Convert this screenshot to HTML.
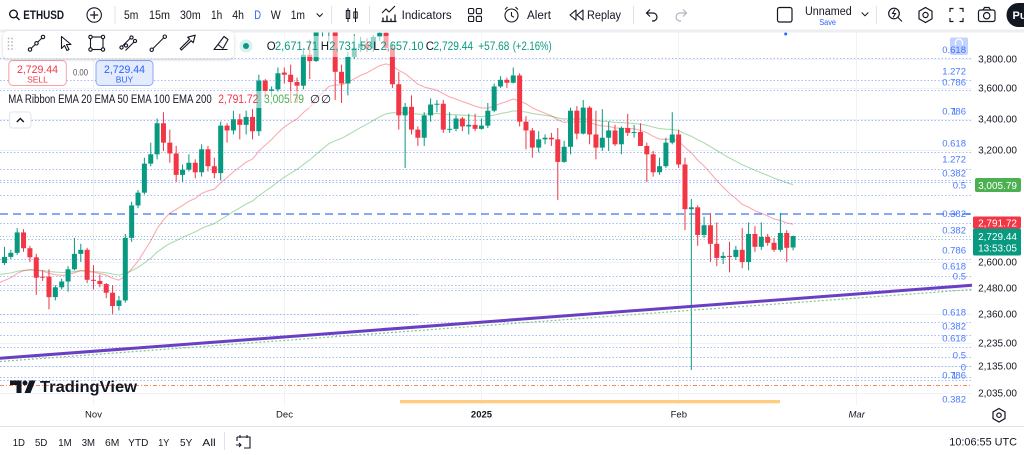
<!DOCTYPE html>
<html><head><meta charset="utf-8"><title>ETHUSD</title>
<style>
html,body{margin:0;padding:0;background:#fff}
body{width:1024px;height:455px;overflow:hidden}
svg{display:block}
text{font-family:"Liberation Sans",Arial,sans-serif}
</style></head>
<body>
<svg id="s" xmlns="http://www.w3.org/2000/svg" width="1024" height="455" viewBox="0 0 1024 455">
<defs>
<clipPath id="cp"><rect x="0" y="32" width="972" height="373"/></clipPath>
<filter id="sh" x="-10%" y="-40%" width="120%" height="200%"><feDropShadow dx="0" dy="1" stdDeviation="1.5" flood-color="#000" flood-opacity="0.18"/></filter>
</defs>
<rect width="1024" height="455" fill="#fff"/>

<!-- grid -->
<g stroke="#f0f2f6" stroke-width="1">
<line x1="93.5" y1="32" x2="93.5" y2="405"/><line x1="284.5" y1="32" x2="284.5" y2="405"/><line x1="481.5" y1="32" x2="481.5" y2="405"/><line x1="678.5" y1="32" x2="678.5" y2="405"/><line x1="856.5" y1="32" x2="856.5" y2="405"/>
<line x1="0" y1="59.5" x2="972" y2="59.5"/><line x1="0" y1="88.5" x2="972" y2="88.5"/><line x1="0" y1="119.5" x2="972" y2="119.5"/><line x1="0" y1="150.5" x2="972" y2="150.5"/><line x1="0" y1="262.5" x2="972" y2="262.5"/><line x1="0" y1="288.5" x2="972" y2="288.5"/><line x1="0" y1="314.5" x2="972" y2="314.5"/><line x1="0" y1="343.5" x2="972" y2="343.5"/><line x1="0" y1="366.5" x2="972" y2="366.5"/><line x1="0" y1="393.5" x2="972" y2="393.5"/>
</g>

<!-- fib dotted lines -->
<g stroke="#2962ff" stroke-opacity="0.42" stroke-width="1" stroke-dasharray="1.5 2">
<line x1="0" y1="58.5" x2="972" y2="58.5"/><line x1="0" y1="80.5" x2="972" y2="80.5"/><line x1="0" y1="90.5" x2="972" y2="90.5"/><line x1="0" y1="120.5" x2="972" y2="120.5"/><line x1="0" y1="152.5" x2="972" y2="152.5"/><line x1="0" y1="169.5" x2="972" y2="169.5"/><line x1="0" y1="180.5" x2="972" y2="180.5"/><line x1="0" y1="182.5" x2="972" y2="182.5"/><line x1="0" y1="195.5" x2="972" y2="195.5"/><line x1="0" y1="223.5" x2="972" y2="223.5"/><line x1="0" y1="239.5" x2="972" y2="239.5"/><line x1="0" y1="259.5" x2="972" y2="259.5"/><line x1="0" y1="276.5" x2="972" y2="276.5"/><line x1="0" y1="285.5" x2="972" y2="285.5"/><line x1="0" y1="290.5" x2="972" y2="290.5"/><line x1="0" y1="314.5" x2="420" y2="314.5"/><line x1="0" y1="322.5" x2="972" y2="322.5"/><line x1="0" y1="335.5" x2="972" y2="335.5"/><line x1="0" y1="347.5" x2="972" y2="347.5"/><line x1="0" y1="357.5" x2="972" y2="357.5"/><line x1="0" y1="366.5" x2="972" y2="366.5"/><line x1="0" y1="377.5" x2="972" y2="377.5"/><line x1="0" y1="380.5" x2="972" y2="380.5"/>
</g>
<line x1="0" y1="236.5" x2="972" y2="236.5" stroke="#4caf50" stroke-opacity="0.6" stroke-dasharray="1 2"/>
<line x1="0" y1="214" x2="972" y2="214" stroke="#2962ff" stroke-opacity="0.75" stroke-width="1.6" stroke-dasharray="8 5"/>
<line x1="0" y1="385.5" x2="972" y2="385.5" stroke="#f26b3a" stroke-opacity="0.8" stroke-width="1" stroke-dasharray="4 2 1 2"/>

<!-- series -->
<g clip-path="url(#cp)">
<polyline id="e50" fill="none" stroke="#4caf50" stroke-opacity="0.45" stroke-width="1.1" points=""/>
<polyline id="e20" fill="none" stroke="#f23645" stroke-opacity="0.42" stroke-width="1.1" points=""/>
<g id="cdl"></g>
</g>

<!-- trendline -->
<line x1="0" y1="361.5" x2="972" y2="289.5" stroke="#81c784" stroke-width="1.2" stroke-dasharray="2 2"/>
<line x1="0" y1="358.3" x2="972" y2="285.3" stroke="#6b3fc4" stroke-width="3"/>

<!-- orange bar -->
<rect x="400" y="400" width="380" height="3.3" fill="#ffcc80"/>
<circle cx="785.7" cy="34" r="1.5" fill="#2962ff"/>

<!-- TradingView logo -->
<g fill="#131722">
<path d="M10 380.5 h11.5 v12.5 h-5 v-8 h-6.5z"/>
<circle cx="25" cy="383" r="2.5"/>
<path d="M29.5 380.5 h6 l-5 12.5 h-6z"/>
<text x="40" y="392" font-size="15.5" font-weight="bold" textLength="97" lengthAdjust="spacingAndGlyphs">TradingView</text>
</g>

<!-- fib labels -->
<rect x="950" y="37.5" width="18" height="17.5" rx="2" fill="#2962ff" fill-opacity="0.28"/>
<path d="M955.5 45 v-2.5 a3.5 3.5 0 0 1 7 0 v2.5" fill="none" stroke="#fff" stroke-width="1.3"/>
<g fill="#2962ff" fill-opacity="0.85" font-size="9.5" text-anchor="end">
<text x="966" y="53">0.618</text>
<text x="966" y="74.5">1.272</text>
<text x="966" y="85.5">0.786</text>
<text x="966" y="114.5">0.786</text><text x="957" y="114.5">1</text>
<text x="966" y="146.5">0.618</text>
<text x="966" y="162.5">1.272</text>
<text x="966" y="176.5">0.382</text>
<text x="966" y="188.5">0.5</text>
<text x="966" y="217">0.382</text>
<text x="966" y="233.5">0.382</text>
<text x="966" y="253.5">0.786</text>
<text x="966" y="269.5">0.618</text>
<text x="966" y="279.5">0.5</text>
<text x="966" y="315.5">0.618</text>
<text x="966" y="329.5">0.382</text>
<text x="966" y="341.5">0.618</text>
<text x="966" y="358.5">0.5</text>
<text x="966" y="370.5">0</text>
<text x="966" y="378.5">0.786</text><text x="957" y="378.5">1</text>
<text x="966" y="402.5">0.382</text>
</g>
<line x1="966" y1="214" x2="971" y2="214" stroke="#2962ff" stroke-opacity="0.8" stroke-width="1.3"/>

<!-- price axis -->
<rect x="972" y="32" width="52" height="373" fill="#fff"/>
<g fill="#131722" font-size="10" text-anchor="end">
<text x="1017" y="62.5">3,800.00</text>
<text x="1017" y="91.5">3,600.00</text>
<text x="1017" y="122.5">3,400.00</text>
<text x="1017" y="153.5">3,200.00</text>
<text x="1017" y="265.5">2,600.00</text>
<text x="1017" y="291.5">2,480.00</text>
<text x="1017" y="317.5">2,360.00</text>
<text x="1017" y="346.5">2,235.00</text>
<text x="1017" y="369.5">2,135.00</text>
<text x="1017" y="396.5">2,035.00</text>
</g>
<rect x="975" y="178" width="46" height="14" rx="2" fill="#4caf50"/>
<rect x="973" y="216.5" width="48" height="12" rx="1.5" fill="#f23645"/>
<rect x="973" y="228.5" width="48" height="27" rx="1.5" fill="#089981"/>
<g fill="#fff" font-size="10" text-anchor="end">
<text x="1017" y="188.8">3,005.79</text>
<text x="1017" y="226.3">2,791.72</text>
<text x="1017" y="239.8">2,729.44</text>
<text x="1017" y="251.5">13:53:05</text>
</g>

<!-- time axis -->
<g fill="#131722" font-size="9.5" text-anchor="middle">
<text x="93.5" y="417.5">Nov</text>
<text x="284.5" y="417.5">Dec</text>
<text x="481.5" y="417.5" font-weight="bold">2025</text>
<text x="678.8" y="417.5">Feb</text>
<text x="856.7" y="417.5" font-style="italic">Mar</text>
</g>
<polygon points="999,408.5 1005,412 1005,418.5 999,422 993,418.5 993,412" fill="none" stroke="#131722" stroke-width="1.2"/>
<circle cx="999" cy="415.2" r="2.2" fill="none" stroke="#131722" stroke-width="1.2"/>

<!-- bottom bar -->
<line x1="0" y1="426.5" x2="1024" y2="426.5" stroke="#e0e3eb"/>
<g fill="#131722" font-size="10.5">
<text x="12.7" y="446" textLength="12.3" lengthAdjust="spacingAndGlyphs">1D</text>
<text x="35" y="446" textLength="12.3" lengthAdjust="spacingAndGlyphs">5D</text>
<text x="58.3" y="446" textLength="13.4" lengthAdjust="spacingAndGlyphs">1M</text>
<text x="81.7" y="446" textLength="13.3" lengthAdjust="spacingAndGlyphs">3M</text>
<text x="105" y="446" textLength="14.3" lengthAdjust="spacingAndGlyphs">6M</text>
<text x="128.3" y="446" textLength="20" lengthAdjust="spacingAndGlyphs">YTD</text>
<text x="158.3" y="446" textLength="11" lengthAdjust="spacingAndGlyphs">1Y</text>
<text x="180" y="446" textLength="12.3" lengthAdjust="spacingAndGlyphs">5Y</text>
<text x="202.3" y="446" textLength="13.4" lengthAdjust="spacingAndGlyphs">All</text>
<text x="1017" y="445.5" font-size="11" text-anchor="end" textLength="67.7" lengthAdjust="spacingAndGlyphs">10:06:55 UTC</text>
</g>
<line x1="224.5" y1="432" x2="224.5" y2="450" stroke="#e0e3eb"/>
<g fill="none" stroke="#131722" stroke-width="1.1">
<path d="M237 437 h13 v11 h-6 M237 437 v4 M240 435 v3 M247 435 v3 M236 445 h5 M239 443 l2 2 l-2 2"/>
</g>

<!-- legend overlays -->
<rect x="238" y="36" width="318" height="21" fill="#fff" fill-opacity="0.55"/>
<circle cx="246" cy="46" r="6.5" fill="#089981" fill-opacity="0.15"/>
<circle cx="246" cy="46" r="3" fill="#089981"/>
<g font-size="11.5">
<text x="266.7" y="50" fill="#131722">O</text>
<text x="275" y="50" fill="#089981" textLength="43" lengthAdjust="spacingAndGlyphs">2,671.71</text>
<text x="320.7" y="50" fill="#131722">H</text>
<text x="329.3" y="50" fill="#089981" textLength="43" lengthAdjust="spacingAndGlyphs">2,731.53</text>
<text x="373.3" y="50" fill="#131722">L</text>
<text x="380.5" y="50" fill="#089981" textLength="43" lengthAdjust="spacingAndGlyphs">2,657.10</text>
<text x="425.7" y="50" fill="#131722">C</text>
<text x="433.5" y="50" fill="#089981" textLength="39.5" lengthAdjust="spacingAndGlyphs">2,729.44</text>
<text x="478.3" y="50" fill="#089981" textLength="31" lengthAdjust="spacingAndGlyphs">+57.68</text>
<text x="512.7" y="50" fill="#089981" textLength="39" lengthAdjust="spacingAndGlyphs">(+2.16%)</text>
</g>

<!-- sell / buy -->
<rect x="8.8" y="60.5" width="57.5" height="25" rx="4" fill="#fff" stroke="#f7a1a8"/>
<text x="37.5" y="73" fill="#f23645" font-size="11" text-anchor="middle" textLength="41" lengthAdjust="spacingAndGlyphs">2,729.44</text>
<text x="37.5" y="82.5" fill="#f23645" font-size="8.5" text-anchor="middle">SELL</text>
<text x="73" y="75.5" fill="#50535e" font-size="9.5" textLength="15" lengthAdjust="spacingAndGlyphs">0.00</text>
<rect x="96" y="60.5" width="57" height="25" rx="4" fill="#e3ebfd" stroke="#8aa9fb"/>
<text x="124.5" y="73" fill="#2962ff" font-size="11" text-anchor="middle" textLength="41" lengthAdjust="spacingAndGlyphs">2,729.44</text>
<text x="124.5" y="82.5" fill="#2962ff" font-size="8.5" text-anchor="middle">BUY</text>

<rect x="4" y="91" width="330" height="17" fill="#fff" fill-opacity="0.55"/>
<g font-size="11.5">
<text x="8.3" y="103" fill="#131722" textLength="203.4" lengthAdjust="spacingAndGlyphs">MA Ribbon EMA 20 EMA 50 EMA 100 EMA 200</text>
<text x="218.3" y="103" fill="#f23645" textLength="40" lengthAdjust="spacingAndGlyphs">2,791.72</text>
<text x="264" y="103" fill="#4caf50" textLength="40" lengthAdjust="spacingAndGlyphs">3,005.79</text>
<text x="310" y="103" fill="#131722">∅</text>
<text x="321" y="103" fill="#131722">∅</text>
</g>
<rect x="9.5" y="112" width="21.5" height="16" rx="3" fill="#fff" stroke="#e0e3eb"/>
<path d="M16.8 122 l3.5 -3.5 l3.5 3.5" fill="none" stroke="#131722" stroke-width="1.5"/>

<!-- top toolbar -->
<rect x="0" y="0" width="1024" height="29.5" fill="#fff"/>
<rect x="0" y="29.5" width="1024" height="3" fill="#eceef2"/>
<g fill="none" stroke="#131722" stroke-width="1.4">
<circle cx="13.5" cy="14" r="3.8"/><path d="M16.3 16.8 l3.2 3.2"/>
<circle cx="94.2" cy="15" r="7.2" stroke-width="1.1"/><path d="M94.2 11 v8 M90.2 15 h8" stroke-width="1.2"/>
<path d="M316.7 13.5 l3 3 l3 -3" stroke-width="1"/>
<path d="M348 8 v14 M355.5 8 v14" stroke-width="1"/>
<rect x="346.3" y="10.5" width="3.4" height="8" stroke-width="1"/><rect x="353.8" y="12" width="3.4" height="6" stroke-width="1"/>
<path d="M382 13 l4 -4 l3 3 l6 -6" stroke-width="1.1"/>
<path d="M383 21.5 v-4 M387 21.5 v-6 M391 21.5 v-3 M395 21.5 v-7 M381.5 21.5 h15" stroke-width="1.3"/>
<rect x="468.5" y="8.5" width="5.2" height="5.2" rx="1.3" stroke-width="1.1"/><rect x="476.3" y="8.5" width="5.2" height="5.2" rx="1.3" stroke-width="1.1"/><rect x="468.5" y="16.3" width="5.2" height="5.2" rx="1.3" stroke-width="1.1"/><rect x="476.3" y="16.3" width="5.2" height="5.2" rx="1.3" stroke-width="1.1"/>
<circle cx="511.5" cy="15.5" r="6.5" stroke-width="1.1"/><path d="M511.5 12 v3.8 l2.5 1.5 M505 9.5 l2.5 -2.5 M518 9.5 l-2.5 -2.5" stroke-width="1.1"/>
<path d="M576 10 l-6 5 l6 5z M583 10 l-6 5 l6 5z" stroke-width="1.1" stroke-linejoin="round"/>
<path d="M650 9.5 l-3.5 3.5 l3.5 3.5 M646.5 13 h6.5 a4 4 0 0 1 0 8 h-1" stroke-width="1.2"/>
<path d="M683 9.5 l3.5 3.5 l-3.5 3.5 M686.5 13 h-6.5 a4 4 0 0 0 0 8 h1" stroke="#b2b5be" stroke-width="1.2"/>
<rect x="777.5" y="7.5" width="14.5" height="14.5" rx="2" stroke-width="1.2"/>
<path d="M861.7 12.5 l3.3 3.3 l3.3 -3.3" stroke-width="1"/>
<circle cx="894" cy="13.5" r="5.3" stroke-width="1.2"/><path d="M898 17.5 l4 4 M895 9.5 l-2.5 4 h3 l-2.5 4" stroke-width="1.1"/>
<polygon points="925.5,7.5 932,11.2 932,18.8 925.5,22.5 919,18.8 919,11.2" stroke-width="1.2"/><circle cx="925.5" cy="15" r="2.6" stroke-width="1.2"/>
<path d="M950 12 v-3.5 h3.5 M959.5 8.5 h3.5 v3.5 M963 18 v3.5 h-3.5 M953.5 21.5 h-3.5 v-3.5" stroke-width="1.2"/>
<rect x="978.5" y="10" width="16.5" height="11.5" rx="2" stroke-width="1.2"/><path d="M983 10 l1.5 -2.5 h4.5 l1.5 2.5" stroke-width="1.2"/><circle cx="986.7" cy="15.7" r="3.2" stroke-width="1.2"/>
</g>
<g stroke="#e0e3eb" stroke-width="1">
<line x1="115" y1="6" x2="115" y2="24"/><line x1="331.5" y1="6" x2="331.5" y2="24"/><line x1="369.5" y1="6" x2="369.5" y2="24"/><line x1="633.5" y1="6" x2="633.5" y2="24"/><line x1="876.5" y1="6" x2="876.5" y2="24"/>
</g>
<g fill="#131722" font-size="11.5">
<text x="23.3" y="19.2" font-weight="bold" textLength="40.7" lengthAdjust="spacingAndGlyphs">ETHUSD</text>
<text x="124" y="19.2" textLength="14.3" lengthAdjust="spacingAndGlyphs">5m</text>
<text x="149" y="19.2" textLength="21" lengthAdjust="spacingAndGlyphs">15m</text>
<text x="180" y="19.2" textLength="20.7" lengthAdjust="spacingAndGlyphs">30m</text>
<text x="211" y="19.2" textLength="11.3" lengthAdjust="spacingAndGlyphs">1h</text>
<text x="232.3" y="19.2" textLength="11.7" lengthAdjust="spacingAndGlyphs">4h</text>
<text x="254.3" y="19.2" fill="#2962ff" textLength="6.8" lengthAdjust="spacingAndGlyphs">D</text>
<text x="270.7" y="19.2" textLength="10" lengthAdjust="spacingAndGlyphs">W</text>
<text x="290.7" y="19.2" textLength="14.3" lengthAdjust="spacingAndGlyphs">1m</text>
<text x="401.7" y="19.2" textLength="50" lengthAdjust="spacingAndGlyphs">Indicators</text>
<text x="527" y="19.2" textLength="24" lengthAdjust="spacingAndGlyphs">Alert</text>
<text x="587" y="19.2" textLength="34" lengthAdjust="spacingAndGlyphs">Replay</text>
<text x="805" y="15" textLength="46.7" lengthAdjust="spacingAndGlyphs">Unnamed</text>
<text x="819.3" y="25" font-size="8" fill="#2962ff" textLength="16.7" lengthAdjust="spacingAndGlyphs">Save</text>
</g>
<rect x="1006.5" y="3" width="40" height="24" rx="12" fill="#131722"/>
<text x="1012.5" y="19" fill="#fff" font-size="11" font-weight="bold">Pu</text>

<!-- drawing toolbar -->
<rect x="3" y="31" width="231" height="27.5" rx="5" fill="#fff" filter="url(#sh)"/>
<g fill="#b2b5be">
<circle cx="8.5" cy="38.5" r="0.9"/><circle cx="8.5" cy="42" r="0.9"/><circle cx="8.5" cy="45.5" r="0.9"/><circle cx="8.5" cy="49" r="0.9"/>
<circle cx="12" cy="38.5" r="0.9"/><circle cx="12" cy="42" r="0.9"/><circle cx="12" cy="45.5" r="0.9"/><circle cx="12" cy="49" r="0.9"/>
</g>
<g fill="none" stroke="#131722" stroke-width="1.1">
<path d="M30.5 49 L42.5 37.5"/><circle cx="30" cy="49.5" r="1.7" fill="#fff"/><circle cx="36.5" cy="43.3" r="1.7" fill="#fff"/><circle cx="43" cy="37" r="1.7" fill="#fff"/>
<path d="M61.5 36.5 v12 l3 -3 l2.5 5 l2 -1 l-2.5 -5 h4.5 z" stroke-linejoin="round"/>
<rect x="90.5" y="37" width="12.5" height="12.5"/><circle cx="90.5" cy="37" r="1.7" fill="#fff"/><circle cx="103" cy="37" r="1.7" fill="#fff"/><circle cx="90.5" cy="49.5" r="1.7" fill="#fff"/><circle cx="103" cy="49.5" r="1.7" fill="#fff"/>
<path d="M121.5 47 L131 37.5 M125.5 50.5 L135 41"/><circle cx="121.5" cy="47.5" r="1.6" fill="#fff"/><circle cx="131.5" cy="37.5" r="1.6" fill="#fff"/><circle cx="135" cy="41" r="1.6" fill="#fff"/><circle cx="126" cy="45.5" r="1.6" fill="#fff"/>
<path d="M152 49.5 L164.5 37"/><circle cx="151.7" cy="49.8" r="1.7" fill="#fff"/><circle cx="164.8" cy="36.7" r="1.7" fill="#fff"/>
<path d="M181.5 50 l-1.3 -1.3 l9.5 -9.5 l-2 -2 l7.5 -2 l-2 7.5 l-2 -2 z" stroke-linejoin="round"/>
<path d="M213.5 49.5 h14 M214 49.5 l4 -5 l5 4 M218 44.5 l6 -8 l4 3 l-5 9" stroke-linejoin="round"/>
</g>
</svg>
<script>
(function(){
var D=[[2595,2675,2585,2625],[2625,2660,2615,2645],[2645,2770,2635,2748],[2748,2765,2650,2668],[2668,2680,2600,2623],[2623,2640,2445,2525],[2530,2560,2510,2525],[2530,2565,2380,2435],[2435,2490,2420,2480],[2480,2520,2470,2507],[2507,2580,2460,2565],[2565,2720,2560,2640],[2640,2690,2600,2660],[2660,2670,2500,2515],
[2515,2585,2470,2510],[2510,2540,2480,2495],[2495,2500,2430,2455],[2455,2490,2360,2395],[2395,2440,2375,2420],[2420,2740,2410,2720],[2720,2910,2700,2890],[2890,2975,2875,2960],[2960,3160,2950,3125],[3125,3250,3110,3180],
[3180,3400,3150,3370],[3370,3440,3200,3250],[3250,3330,3130,3185],[3185,3230,3020,3060],[3060,3120,3020,3090],[3090,3180,3080,3130],[3130,3150,3040,3075],[3075,3240,3050,3210],[3210,3230,3080,3110],[3110,3160,3040,3070],
[3070,3380,3030,3355],[3355,3370,3250,3325],[3325,3450,3300,3395],[3395,3430,3270,3360],[3360,3450,3300,3410],[3410,3460,3270,3320],[3320,3690,3290,3650],[3650,3660,3530,3580],[3580,3610,3540,3590],[3590,3740,3570,3700],
[3705,3740,3630,3690],[3690,3760,3510,3640],[3640,3670,3500,3615],[3615,3880,3590,3830],[3830,3940,3660,3785],[3785,4080,3780,4000],[4000,4020,3960,4005],[4005,4020,3920,4010],[4010,4030,3520,3710],[3710,3760,3500,3630],
[3630,3850,3550,3815],[3815,3980,3800,3880],[3880,3960,3850,3910],[3910,3950,3850,3875],[3875,3970,3850,3960],[3960,4110,3930,3990],[3990,4050,3860,3880],[3880,3910,3600,3625],[3625,3710,3330,3420],[3420,3500,3100,3475],
[3475,3550,3300,3330],[3330,3350,3230,3280],[3280,3440,3230,3420],[3420,3530,3380,3490],[3490,3520,3440,3495],[3495,3520,3310,3330],[3330,3440,3310,3335],[3335,3420,3320,3400],[3400,3410,3320,3350],[3350,3430,3300,3360],
[3360,3430,3320,3335],[3335,3400,3330,3355],[3355,3500,3340,3450],[3450,3630,3440,3610],[3610,3680,3600,3655],[3655,3670,3600,3635],[3635,3740,3630,3685],[3685,3700,3350,3380],[3380,3415,3210,3325],[3325,3340,3160,3220],
[3220,3320,3190,3270],[3270,3300,3240,3280],[3280,3310,3230,3270],[3270,3340,2920,3135],[3135,3260,3130,3225],[3225,3470,3180,3450],[3450,3480,3270,3305],[3305,3520,3300,3470],[3470,3480,3240,3300],[3300,3450,3150,3220],
[3220,3460,3200,3280],[3280,3380,3200,3325],[3325,3360,3230,3240],[3240,3350,3180,3340],[3340,3430,3290,3310],[3310,3360,3280,3315],[3315,3370,3250,3230],[3230,3250,3020,3180],[3180,3200,3050,3075],[3075,3160,3060,3110],
[3110,3280,3100,3250],[3250,3440,3240,3300],[3300,3330,3100,3120],[3120,3160,2760,2870],[2870,2925,2125,2880],[2880,2890,2680,2735],[2735,2830,2720,2785],[2785,2850,2600,2690],[2690,2800,2580,2620],[2620,2650,2590,2630],
[2630,2700,2550,2625],[2625,2680,2610,2660],[2660,2770,2570,2600],[2600,2800,2560,2740],[2740,2780,2650,2675],[2675,2800,2660,2725],[2725,2740,2680,2695],[2695,2720,2650,2660],[2660,2850,2650,2745],[2745,2760,2600,2670],
[2671.71,2731.53,2657.10,2729.44]];
var start=-14,ns="http://www.w3.org/2000/svg";
function Y(p){return 59+535*Math.log(3800/p);}
function X(i){return 93.5+i*6.36;}
var g=document.getElementById('cdl');
var e20=2500,e50=2540,p20=[],p50=[];
var x0=X(start-1);
p20.push(x0.toFixed(1)+','+Y(e20).toFixed(1));
p50.push(x0.toFixed(1)+','+Y(e50).toFixed(1));
function R(x,y,w,h,c){var r=document.createElementNS(ns,'rect');r.setAttribute('x',x.toFixed(2));r.setAttribute('y',y.toFixed(2));r.setAttribute('width',w);r.setAttribute('height',h.toFixed(2));r.setAttribute('fill',c);g.appendChild(r);}
for(var j=0;j<D.length;j++){
var d=D[j],i=start+j,x=X(i),o=d[0],h=d[1],l=d[2],c=d[3];
var col=c>=o?'#089981':'#f23645';
R(x-0.5,Y(h),1,Y(l)-Y(h),col);
var t=Math.min(Y(o),Y(c)),b=Math.max(Y(o),Y(c));
R(x-2.5,t,5,Math.max(1,b-t),col);
e20=e20+(c-e20)*2/21;e50=e50+(c-e50)*2/51;
p20.push(x.toFixed(1)+','+Y(e20).toFixed(1));
p50.push(x.toFixed(1)+','+Y(e50).toFixed(1));
}
document.getElementById('e20').setAttribute('points',p20.join(' '));
document.getElementById('e50').setAttribute('points',p50.join(' '));
})();
</script>
</body></html>
